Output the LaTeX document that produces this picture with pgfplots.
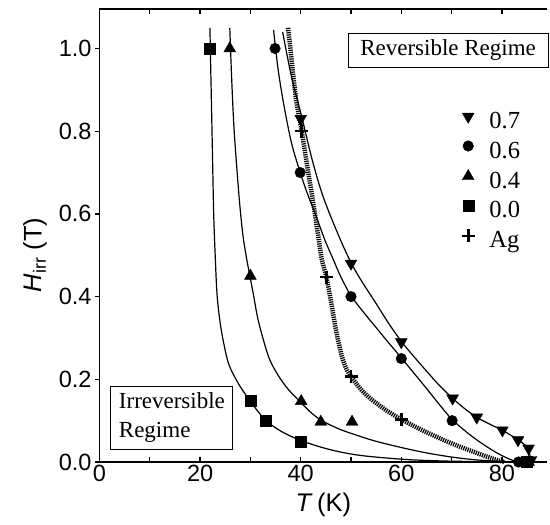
\documentclass[border=0pt]{standalone}
\usepackage{fontspec}
\setmainfont{Liberation Sans}
\newfontfamily\serif{Liberation Serif}
\usepackage{pgfplots}
\pgfplotsset{compat=1.18}
\begin{document}
\begin{tikzpicture}
\useasboundingbox (-99.5pt,-63pt) rectangle (450.5pt,462pt);
\begin{axis}[
  at={(0pt,0pt)}, anchor=south west,
  scale only axis, width=447.7pt, height=452.8pt,
  xmin=0, xmax=89, ymin=0, ymax=1.095,
  clip=false,
  axis x line*=box, axis y line*=left,
  x axis line style={-}, y axis line style={-},
  axis line style={line width=1.5pt},
  xtick={0,20,40,60,80}, minor xtick={10,30,50,70},
  ytick={0,0.2,0.4,0.6,0.8,1.0},
  xtick align=inside, ytick align=outside,
  xtick pos=both, ytick pos=left,
  major tick length=4.5pt, minor tick length=4.5pt,
  tick style={line width=1.3pt, black},
  /pgf/number format/assume math mode=true,
  tick label style={font=\fontsize{23.5}{23.5}\selectfont},
  yticklabel style={/pgf/number format/.cd, fixed, fixed zerofill, precision=1},
  xlabel={\textit{T}\,(K)},
  xlabel style={font=\fontsize{25.5}{25.5}\selectfont, at={(axis description cs:0.5,-0.095)}, anchor=center},
  ylabel={\textit{H}\textsubscript{irr} (T)},
  ylabel style={font=\fontsize{25.5}{25.5}\selectfont, at={(axis description cs:-0.144,0.457)}, anchor=center},
  legend style={draw=none, fill=none, at={(axis cs:71.67,0.85)}, anchor=north west,
    inner sep=0pt, outer sep=0pt, row sep=5.5pt, column sep=13pt,
    font=\serif\fontsize{24.5}{24.5}\selectfont,
    nodes={inner sep=0pt, text height=18pt, text depth=6pt}},
  legend cell align=left,
  legend image code/.code={\path (-8pt,0pt) (8pt,0pt); \draw[#1] plot coordinates {(0pt,6pt)};},
]
% fitted curves
\addplot[forget plot, black, line width=1.2pt, smooth, tension=0.5] coordinates {
(36.4,1.04) (38.2,0.93) (40.2,0.835) (42.3,0.73) (44.5,0.64) (47.8,0.54) (50.3,0.475) (52.5,0.43) (55,0.383) (57.5,0.335) (60.1,0.29) (62.5,0.255) (65,0.22) (67.5,0.186) (70.2,0.154) (72.5,0.13) (75,0.108) (77.5,0.092) (80.2,0.076) (82,0.063) (83.3,0.053) (84.5,0.042) (85.3,0.031) (85.8,0)};
\addplot[forget plot, black, line width=1.2pt, smooth, tension=0.5] coordinates {
(34.6,1.045) (35.5,0.95) (36.7,0.86) (38.2,0.77) (39.9,0.70) (41.3,0.65) (42.9,0.60) (44.8,0.537) (46.5,0.489) (48,0.447) (50,0.402) (52.5,0.362) (55,0.325) (57.5,0.288) (60,0.252) (62.5,0.215) (65,0.178) (67.5,0.14) (70,0.104) (73,0.072) (76,0.045) (79,0.022) (81.5,0.007) (83.2,0)};
\addplot[forget plot, black, line width=1.2pt, smooth, tension=0.5] coordinates {
(25.9,1.05) (26.3,0.92) (26.8,0.795) (27.8,0.634) (28.5,0.55) (29.2,0.495) (29.9,0.45) (30.6,0.405) (31.6,0.34) (33.6,0.255) (35.5,0.21) (37.5,0.176) (40.1,0.143) (42,0.12) (44.2,0.10) (47.8,0.079) (51.8,0.062) (55,0.05) (60,0.035) (65,0.022) (70,0.012) (75,0.005) (80,0.0015) (84,0)};
\addplot[forget plot, black, line width=1.2pt, smooth, tension=0.5] coordinates {
(21.95,1.05) (22.2,0.9) (22.45,0.75) (22.7,0.6) (23.0,0.5) (23.4,0.40) (24.2,0.32) (25.6,0.24) (27.6,0.19) (29.9,0.148) (31.2,0.127) (33.1,0.10) (36,0.075) (40,0.052) (45.8,0.030) (51.8,0.016) (61,0.006) (70,0.002) (84,0)};
\addplot[forget plot, black, line width=4.5pt, dash pattern=on 1.2pt off 1pt, smooth, tension=0.5] coordinates {
(37.5,1.05) (38.3,0.96) (39.1,0.875) (40.2,0.80) (41.3,0.715) (42.4,0.634) (43.5,0.545) (44.2,0.49) (45.1,0.447) (46.0,0.39) (47.0,0.32) (48.2,0.255) (49.2,0.222) (50,0.207) (52,0.175) (54,0.152) (57,0.125) (60,0.103) (64,0.078) (67.7,0.057) (71,0.04) (74.3,0.025) (77,0.013) (79,0.005) (80.5,0)};
% data points
\addplot[only marks, mark=triangle*, mark size=6.8pt, mark options={rotate=180, fill=black}, black] coordinates {
(40,0.83) (50,0.48) (60,0.29) (70.2,0.154) (75,0.108) (80.1,0.077) (83.2,0.053) (85.3,0.033) (85.8,0.005)};
\addlegendentry{0.7}
\addplot[only marks, mark=*, mark size=5.3pt, black] coordinates {
(34.9,1.0) (39.9,0.70) (50,0.40) (60,0.25) (70.1,0.10) (83.3,0)};
\addlegendentry{0.6}
\addplot[only marks, mark=triangle*, mark size=6.8pt, black] coordinates {
(25.9,1.0) (30,0.45) (40.1,0.147) (44,0.097) (50.2,0.097) (85.3,0)};
\addlegendentry{0.4}
\addplot[only marks, mark=square*, mark size=5.5pt, black] coordinates {
(21.9,1.0) (30,0.148) (33.1,0.10) (40,0.05) (85,0)};
\addlegendentry{0.0}
\addplot[only marks, mark=+, mark size=6.5pt, mark options={line width=2.6pt}, black] coordinates {
(40.2,0.80) (45.1,0.447) (50,0.207) (60,0.103)};
\addlegendentry{Ag}
% annotation boxes
\node[draw, line width=1.1pt, minimum width=200pt, minimum height=34pt, inner sep=0pt,
  font=\serif\fontsize{23}{23}\selectfont] at (axis cs:69.3,0.996) {Reversible Regime};
\node[draw, line width=1.1pt, minimum width=122pt, minimum height=63pt, inner sep=0pt, align=left,
  font=\serif\fontsize{23}{29}\selectfont] at (axis cs:14.4,0.107) {Irreversible\\Regime};
\end{axis}
\end{tikzpicture}
\end{document}
